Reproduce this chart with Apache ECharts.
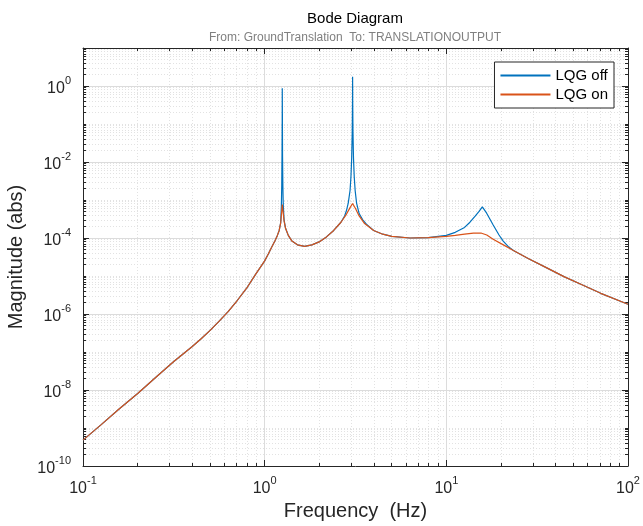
<!DOCTYPE html>
<html>
<head>
<meta charset="utf-8">
<title>Bode Diagram</title>
<script src="https://cdn.jsdelivr.net/npm/echarts@6/dist/echarts.min.js"></script>
<style>
html, body { margin: 0; padding: 0; background: #fff; }
#bode { width: 643px; height: 526px; }
</style>
</head>
<body>
<div id="bode"></div>
<script>
// values: frequency in Hz, magnitude in abs
var freqOn = [0.1, 0.126, 0.158, 0.2, 0.251, 0.316, 0.398, 0.447, 0.501, 0.562, 0.631, 0.708, 0.794, 0.891,
	1.0, 1.047, 1.096, 1.14, 1.175, 1.202, 1.225, 1.239, 1.25, 1.262, 1.279, 1.303, 1.349, 1.413,
	1.514, 1.66, 1.82, 1.995, 2.188, 2.399, 2.63, 2.818, 2.951, 3.048, 3.162, 3.311, 3.548,
	3.981, 4.467, 5.012, 6.31, 7.94, 10.0, 11.2, 12.6, 14.1, 15.5, 16.7, 18.1, 20.6, 23.4,
	28.2, 35.5, 44.7, 56.2, 70.8, 100];
var magOn = [4.8e-10, 1.23e-9, 3.16e-9, 8.1e-9, 2.14e-8, 5.6e-8, 1.38e-7, 2.24e-7, 3.7e-7, 6.5e-7, 1.17e-6, 2.3e-6, 4.7e-6, 1.1e-5,
	2.5e-5, 3.8e-5, 5.9e-5, 8.5e-5, 1.17e-4, 1.58e-4, 2.5e-4, 4.5e-4, 7.6e-4, 5.0e-4, 2.8e-4, 1.8e-4, 1.17e-4, 8.3e-5,
	6.6e-5, 6.0e-5, 6.6e-5, 7.9e-5, 1.07e-4, 1.58e-4, 2.6e-4, 4.2e-4, 6.3e-4, 8.1e-4, 6.0e-4, 3.8e-4, 2.4e-4,
	1.58e-4, 1.26e-4, 1.1e-4, 1.0e-4, 1.02e-4, 1.1e-4, 1.17e-4, 1.26e-4, 1.35e-4, 1.35e-4, 1.2e-4, 9.3e-5, 6.6e-5, 4.7e-5,
	2.9e-5, 1.66e-5, 9.5e-6, 5.8e-6, 3.5e-6, 1.8e-6];

var freqOff = [0.1, 0.126, 0.158, 0.2, 0.251, 0.316, 0.398, 0.447, 0.501, 0.562, 0.631, 0.708, 0.794, 0.891,
	1.0, 1.047, 1.096, 1.14, 1.175, 1.202, 1.225, 1.236, 1.242, 1.246, 1.249, 1.25, 1.252, 1.254, 1.259,
	1.265, 1.279, 1.303, 1.349, 1.413, 1.514, 1.66, 1.82, 1.995, 2.188, 2.399, 2.63, 2.754, 2.818,
	2.884, 2.951, 2.985, 3.013, 3.034, 3.045, 3.048, 3.052, 3.062, 3.083, 3.112, 3.148, 3.206,
	3.311, 3.467, 3.631, 3.981, 4.467, 5.012, 6.31, 7.94, 10.0, 11.2, 12.6, 13.49, 14.45, 15.14,
	15.78, 16.67, 18.11, 19.5, 20.56, 21.88, 23.4, 28.2, 35.5, 44.7, 56.2, 70.8, 100];
var magOff = [4.8e-10, 1.23e-9, 3.16e-9, 8.1e-9, 2.14e-8, 5.6e-8, 1.38e-7, 2.24e-7, 3.7e-7, 6.5e-7, 1.17e-6, 2.3e-6, 4.7e-6, 1.1e-5,
	2.5e-5, 3.8e-5, 5.9e-5, 8.5e-5, 1.17e-4, 1.58e-4, 2.5e-4, 7.1e-4, 2.5e-3, 0.016, 0.126, 0.87, 0.126, 0.016, 2.5e-3,
	7.9e-4, 3.0e-4, 1.8e-4, 1.17e-4, 8.3e-5, 6.6e-5, 6.0e-5, 6.6e-5, 7.9e-5, 1.07e-4, 1.58e-4, 2.6e-4, 3.8e-4, 5.2e-4,
	8.3e-4, 1.78e-3, 4.1e-3, 0.0126, 0.063, 0.40, 1.76, 0.40, 0.063, 0.0126, 4.1e-3, 1.78e-3, 8.3e-4,
	4.4e-4, 3.0e-4, 2.3e-4, 1.58e-4, 1.26e-4, 1.1e-4, 1.0e-4, 1.02e-4, 1.17e-4, 1.41e-4, 1.9e-4, 2.6e-4, 3.8e-4, 5.0e-4,
	6.6e-4, 4.5e-4, 2.2e-4, 1.2e-4, 8.3e-5, 6.0e-5, 4.7e-5, 2.9e-5, 1.66e-5, 9.5e-6, 5.8e-6, 3.5e-6, 1.8e-6];

var seriesNames = ['LQG off', 'LQG on'];
var seriesColors = ['#0072BD', '#D95319'];

// decade exponents carrying labels
var xTickExps = [-1, 0, 1, 2];
var yTickExps = [-10, -8, -6, -4, -2, 0];

var font = 'Liberation Sans, Arial, Helvetica, sans-serif';
var axisColor = '#262626';

// axes are drawn in log10 space, so minor ticks sit at log10(k * 10^n)
function minorExps(lo, hi, majors) {
	var out = [];
	for (var n = lo; n < hi; n++) {
		for (var k = 1; k < 10; k++) {
			if (k === 1 && majors.indexOf(n) >= 0) continue;
			out.push(n + Math.log10(k));
		}
	}
	return out;
}
var xMinor = minorExps(-1, 2, xTickExps);
var yMinor = minorExps(-10, 1, yTickExps);

function toPoints(freq, mag) {
	return freq.map(function (f, i) {
		return [Math.log10(f), Math.log10(mag[i])];
	});
}

var labelRich = {
	b: { fontSize: 16, fontFamily: font, color: axisColor, lineHeight: 22, verticalAlign: 'bottom' },
	s: { fontSize: 11, fontFamily: font, color: axisColor, lineHeight: 12, verticalAlign: 'top' }
};
function powLabel(v) {
	return '{b|10}{s|' + Math.round(v) + '}';
}

function makeAxis(pos, lo, hi, majors, minors, isMajor, extra) {
	var axis = {
		type: 'value',
		min: lo,
		max: hi,
		position: pos,
		axisLine: { show: isMajor, onZero: false, lineStyle: { color: axisColor, width: 1 } },
		axisTick: {
			show: true,
			inside: true,
			length: isMajor ? 6 : 3,
			customValues: isMajor ? majors : minors,
			lineStyle: { color: axisColor, width: 1 }
		},
		axisLabel: { show: false },
		splitLine: { show: false }
	};
	for (var k in extra) axis[k] = extra[k];
	return axis;
}

var chartDom = document.getElementById('bode');
var myChart = echarts.init(chartDom, null, { renderer: 'canvas', devicePixelRatio: 1 });

var option = {
	animation: false,
	backgroundColor: '#fff',
	title: {
		text: 'Bode Diagram',
		subtext: 'From: GroundTranslation  To: TRANSLATIONOUTPUT',
		left: 355,
		top: 10,
		padding: 0,
		itemGap: 3,
		textAlign: 'center',
		textStyle: { fontSize: 15, fontWeight: 'normal', fontFamily: font, color: '#000', lineHeight: 18 },
		subtextStyle: { fontSize: 12, fontFamily: font, color: '#808080', lineHeight: 14 }
	},
	legend: {
		data: seriesNames,
		orient: 'vertical',
		right: 29,
		top: 62,
		selectedMode: false,
		icon: 'rect',
		backgroundColor: '#fff',
		borderColor: axisColor,
		borderWidth: 1,
		borderRadius: 0,
		padding: [6, 6, 6, 6],
		itemWidth: 50,
		itemHeight: 2,
		itemGap: 4,
		textStyle: { fontSize: 15, fontFamily: font, color: '#000' }
	},
	grid: { left: 83, right: 15, top: 48, bottom: 60, containLabel: false, outerBoundsMode: 'none' },
	xAxis: [
		makeAxis('bottom', -1, 2, xTickExps, xMinor, true, {
			name: 'Frequency  (Hz)',
			nameLocation: 'middle',
			nameGap: 35,
			nameTextStyle: { fontSize: 20, fontFamily: font, color: axisColor },
			axisLabel: { show: true, customValues: xTickExps, formatter: powLabel, rich: labelRich, margin: 9 },
			splitLine: { show: true, lineStyle: { color: '#dcdcdc', width: 1 } }
		}),
		makeAxis('bottom', -1, 2, xTickExps, xMinor, false, {
			splitLine: { show: true, lineStyle: { color: '#e2e2e2', width: 1, type: [1, 2] } }
		}),
		makeAxis('top', -1, 2, xTickExps, xMinor, true, {}),
		makeAxis('top', -1, 2, xTickExps, xMinor, false, {})
	],
	yAxis: [
		makeAxis('left', -10, 1, yTickExps, yMinor, true, {
			name: 'Magnitude (abs)',
			nameLocation: 'middle',
			nameGap: 45,
			nameRotate: 90,
			nameTextStyle: { fontSize: 20, fontFamily: font, color: axisColor },
			axisLabel: { show: true, customValues: yTickExps, formatter: powLabel, rich: labelRich, margin: 12 },
			splitLine: { show: true, lineStyle: { color: '#dcdcdc', width: 1 } }
		}),
		makeAxis('left', -10, 1, yTickExps, yMinor, false, {
			splitLine: { show: true, lineStyle: { color: '#e2e2e2', width: 1, type: [1, 2] } }
		}),
		makeAxis('right', -10, 1, yTickExps, yMinor, true, {}),
		makeAxis('right', -10, 1, yTickExps, yMinor, false, {})
	],
	series: [
		{
			name: seriesNames[0],
			type: 'line',
			xAxisIndex: 0,
			yAxisIndex: 0,
			data: toPoints(freqOff, magOff),
			symbol: 'none',
			showSymbol: false,
			lineStyle: { color: seriesColors[0], width: 1.2 },
			itemStyle: { color: seriesColors[0] }
		},
		{
			name: seriesNames[1],
			type: 'line',
			xAxisIndex: 0,
			yAxisIndex: 0,
			data: toPoints(freqOn, magOn),
			symbol: 'none',
			showSymbol: false,
			lineStyle: { color: seriesColors[1], width: 1.2 },
			itemStyle: { color: seriesColors[1] }
		}
	]
};

option && myChart.setOption(option);
</script>
</body>
</html>
